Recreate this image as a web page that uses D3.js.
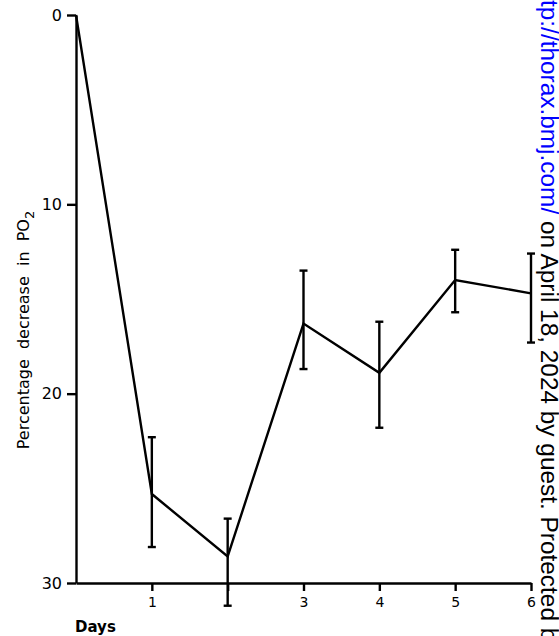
<!DOCTYPE html>
<html>
<head>
<meta charset="utf-8">
<script src="https://cdn.jsdelivr.net/npm/d3@7"></script>
<style>
  html, body { margin: 0; padding: 0; background: #fff; }
  svg { display: block; }
</style>
</head>
<body>
<div id="chart"></div>
<script>
const days = [0, 1, 2, 3, 4, 5, 6];
const meanDecrease = [0, 25.3, 28.6, 16.3, 18.9, 14.0, 14.7];
const errLow = [null, 22.3, 26.6, 13.5, 16.2, 12.4, 12.6];
const errHigh = [null, 28.1, 31.2, 18.7, 21.8, 15.7, 17.3];
const xTicks = [1, 2, 3, 4, 5, 6];
const xTickLabels = ["1", "", "3", "4", "5", "6"];
const yTicks = [0, 10, 20, 30];

const WIDTH = 559;
const HEIGHT = 636;
const STROKE = "#000";
const LINE_W = 2.4;
const CAP_HALF = 4;
const FONT = "'DejaVu Sans', 'Liberation Sans', sans-serif";

const points = days.map((d, i) => ({
  day: d,
  value: meanDecrease[i],
  low: errLow[i],
  high: errHigh[i],
}));

const svg = d3
  .select("#chart")
  .append("svg")
  .attr("width", WIDTH)
  .attr("height", HEIGHT)
  .attr("viewBox", [0, 0, WIDTH, HEIGHT]);

const x = d3.scaleLinear().domain([0, 6]).range([76, 531]);
const y = d3.scaleLinear().domain([0, 30]).range([15, 583]);

// y axis
const yAxis = svg
  .append("g")
  .attr("transform", `translate(${x(0)},0)`)
  .call(
    d3.axisLeft(y).tickValues(yTicks).tickSize(9).tickSizeOuter(0).tickPadding(5)
  );
yAxis.select(".domain").attr("stroke", STROKE).attr("stroke-width", LINE_W);
yAxis.selectAll(".tick line").attr("stroke", STROKE).attr("stroke-width", LINE_W);
yAxis
  .selectAll(".tick text")
  .attr("fill", STROKE)
  .style("font-family", FONT)
  .style("font-size", "16px");

// x axis
const xAxis = svg
  .append("g")
  .attr("transform", `translate(0,${y(30)})`)
  .call(
    d3
      .axisBottom(x)
      .tickValues(xTicks)
      .tickFormat((d, i) => xTickLabels[i])
      .tickSize(8)
      .tickSizeOuter(0)
      .tickPadding(6)
  );
xAxis.select(".domain").attr("stroke", STROKE).attr("stroke-width", LINE_W);
xAxis.selectAll(".tick line").attr("stroke", STROKE).attr("stroke-width", LINE_W);
xAxis
  .selectAll(".tick text")
  .attr("fill", STROKE)
  .style("font-family", FONT)
  .style("font-size", "14px");

// axis titles
svg
  .append("text")
  .attr("x", 75)
  .attr("y", 632)
  .style("font-family", FONT)
  .style("font-size", "15px")
  .style("font-weight", "bold")
  .text("Days");

const yTitle = svg
  .append("text")
  .attr("transform", "translate(29,330) rotate(-90)")
  .attr("text-anchor", "middle")
  .style("font-family", FONT)
  .style("font-size", "16px")
  .style("white-space", "pre");
yTitle.append("tspan").text("Percentage  decrease  in  PO");
yTitle
  .append("tspan")
  .attr("dy", 5)
  .style("font-size", "13px")
  .text("2");

// mean line
const line = d3
  .line()
  .x((d) => x(d.day))
  .y((d) => y(d.value));

svg
  .append("path")
  .datum(points)
  .attr("fill", "none")
  .attr("stroke", STROKE)
  .attr("stroke-width", LINE_W)
  .attr("stroke-linejoin", "miter")
  .attr("d", line);

// error bars
const bars = svg
  .append("g")
  .selectAll("g")
  .data(points.filter((d) => d.low != null))
  .join("g");

bars
  .append("line")
  .attr("x1", (d) => x(d.day))
  .attr("x2", (d) => x(d.day))
  .attr("y1", (d) => y(d.low))
  .attr("y2", (d) => y(d.high))
  .attr("stroke", STROKE)
  .attr("stroke-width", LINE_W);

["low", "high"].forEach((end) => {
  bars
    .append("line")
    .attr("x1", (d) => x(d.day) - CAP_HALF)
    .attr("x2", (d) => x(d.day) + CAP_HALF)
    .attr("y1", (d) => y(d[end]))
    .attr("y2", (d) => y(d[end]))
    .attr("stroke", STROKE)
    .attr("stroke-width", LINE_W);
});

// download watermark along the right edge
const mark = svg
  .append("text")
  .attr("transform", "translate(541,0) rotate(90)")
  .style("font-family", "'Liberation Sans', Arial, sans-serif")
  .style("font-size", "24.4px");
mark.append("tspan").attr("fill", "#0000ff").text("http://thorax.bmj.com/");
mark.append("tspan").attr("fill", "#000").text(" on April 18, 2024 by guest. Protected by copyright.");
const htWidth = mark.node().getSubStringLength(0, 2);
mark.attr("x", -htWidth);
</script>
</body>
</html>
